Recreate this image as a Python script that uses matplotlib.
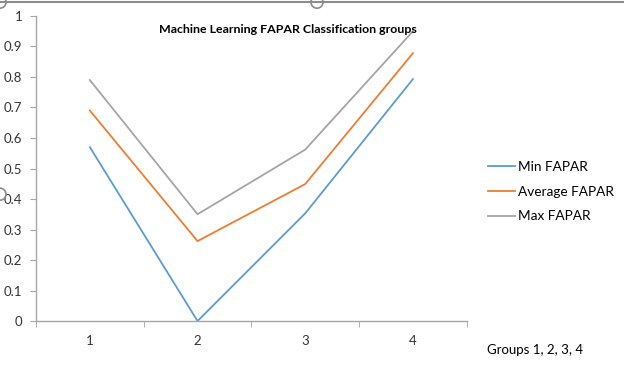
import matplotlib.pyplot as plt
from matplotlib.lines import Line2D
from matplotlib.patches import Circle

groups = [1, 2, 3, 4]
min_fapar = [0.57, 0.0, 0.353, 0.793]
avg_fapar = [0.69, 0.262, 0.449, 0.878]
max_fapar = [0.79, 0.35, 0.562, 0.95]

plt.rcParams['font.family'] = ['Lato', 'DejaVu Sans']

fig = plt.figure(figsize=(6.24, 3.65), dpi=100)
ax = fig.add_axes([0.0577, 0.1205, 0.6903, 0.8357])

ax.plot(groups, min_fapar, color='#5B9BD5', lw=1.3, label='Min FAPAR')
ax.plot(groups, avg_fapar, color='#ED7D31', lw=1.3, label='Average FAPAR')
ax.plot(groups, max_fapar, color='#A5A5A5', lw=1.3, label='Max FAPAR')

ax.set_xlim(0.5, 4.5)
ax.set_ylim(0, 1)
ax.set_yticks([i / 10 for i in range(11)])
ax.set_yticklabels(['0', '0.1', '0.2', '0.3', '0.4', '0.5', '0.6', '0.7', '0.8', '0.9', '1'])
ax.set_xticks(groups)
ax.set_xticks([0.5, 1.5, 2.5, 3.5, 4.5], minor=True)
ax.tick_params(axis='x', which='major', length=0, pad=10, labelsize=9.5, colors='#333333')
ax.tick_params(axis='x', which='minor', length=4, color='#A6A6A6')
ax.tick_params(axis='y', length=4, color='#A6A6A6', labelsize=9.5, labelcolor='#333333', pad=6)
for s in ['top', 'right']:
    ax.spines[s].set_visible(False)
for s in ['left', 'bottom']:
    ax.spines[s].set_color('#A6A6A6')
    ax.spines[s].set_linewidth(1.0)

fig.text(0.462, 0.918, 'Machine Learning FAPAR Classification groups',
         ha='center', va='center', fontsize=8.9, fontweight='bold')

leg = fig.legend(loc='upper left', bbox_to_anchor=(0.782, 0.56), frameon=False,
                 borderpad=0, borderaxespad=0,
                 fontsize=9.8, handlelength=1.95, handletextpad=0.25, labelspacing=0.95)

fig.text(0.78, 0.04, 'Groups 1, 2, 3, 4', ha='left', va='center', fontsize=9.5)

# chart frame decoration
fig.add_artist(Line2D([0, 1], [0.994, 0.994], color='#8C8C8C', lw=1.5))
for cx, cy in [(0.0, 0.994), (0.508, 0.994), (0.0, 0.468)]:
    fig.add_artist(Circle((cx * 624, cy * 365), 6, transform=None, facecolor='white',
                          edgecolor='#8C8C8C', lw=1.2))

fig.savefig('out.png', dpi=100)
